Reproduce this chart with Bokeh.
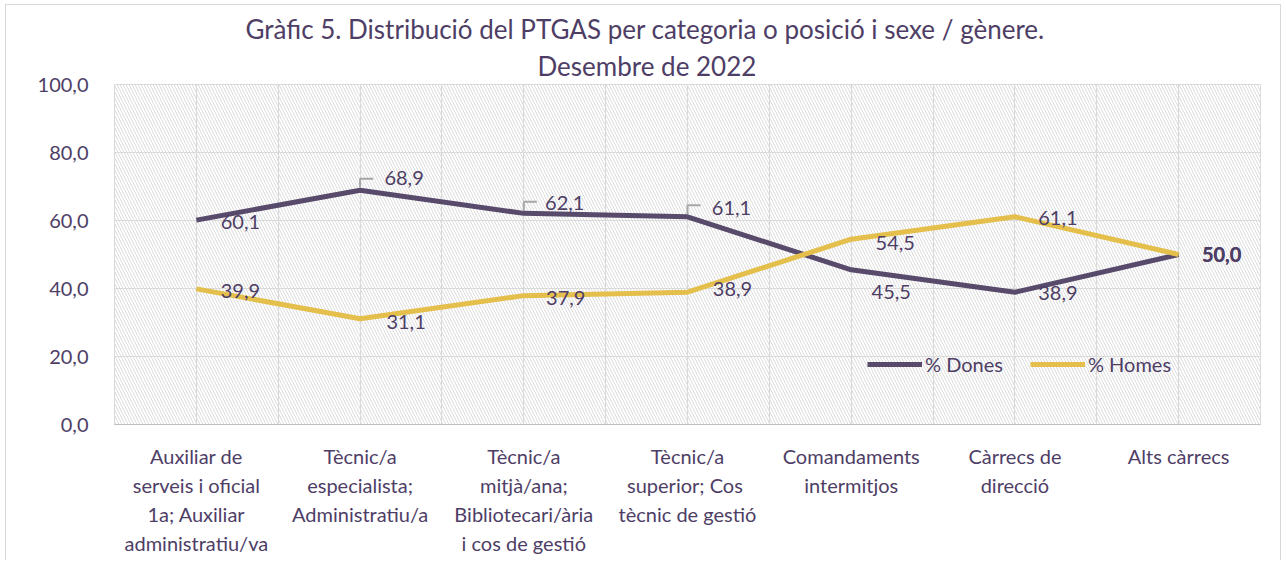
import numpy as np
from bokeh.plotting import figure
from bokeh.models import (ColumnDataSource, FixedTicker, BoxAnnotation, Legend,
                          LegendItem, Title, Range1d)
from bokeh.core.properties import value
from bokeh.embed import file_html
from bokeh.resources import INLINE

# ---------------- data ----------------
categories = [
    "Auxiliar de\nserveis i oficial\n1a; Auxiliar\nadministratiu/va",
    "Tècnic/a\nespecialista;\nAdministratiu/a",
    "Tècnic/a\nmitjà/ana;\nBibliotecari/ària\ni cos de gestió",
    "Tècnic/a\nsuperior;  Cos\ntècnic de gestió",
    "Comandaments\nintermitjos",
    "Càrrecs de\ndirecció",
    "Alts càrrecs",
]
dones = [60.1, 68.9, 62.1, 61.1, 45.5, 38.9, 50.0]
homes = [39.9, 31.1, 37.9, 38.9, 54.5, 61.1, 50.0]
y_ticks = [0, 20, 40, 60, 80, 100]
y_tick_labels = ["0,0", "20,0", "40,0", "60,0", "80,0", "100,0"]
series_names = ["% Dones", "% Homes"]
title_line1 = "Gràfic 5. Distribució del PTGAS per categoria o posició i sexe / gènere."
title_line2 = "Desembre de 2022"
leader_idx = [1, 2, 3]  # Dones labels with leader lines

# ---------------- styles ----------------
FONT = "Lato"
TXT = "#4e3e66"
C_DONES = "#574a6b"
C_HOMES = "#e4bf4b"
GRID = "#d9d9d9"
dones_dx = [44, 44, 41, 44, 40, 43, 43]
dones_dy = [2, -12, -10, -9, 22, 1, 0]
homes_dx = [44, 46, 42, 45, 44, 43, 43]
homes_dy = [2, 3, 2, -3, 4, 1, 0]

n = len(categories)
x = np.arange(n) + 0.5

def fmt(v):
    return f"{v:.1f}".replace(".", ",")

src_d = ColumnDataSource(dict(
    x=x, y=dones, lab=[fmt(v) for v in dones], dx=dones_dx, dy=dones_dy,
    fs=["normal"] * (n - 1) + ["bold"]))
src_h = ColumnDataSource(dict(
    x=x, y=homes, lab=[fmt(v) for v in homes], dx=homes_dx, dy=homes_dy,
    fs=["normal"] * (n - 1) + ["bold"]))

p = figure(frame_width=1146, frame_height=340, output_backend="svg", toolbar_location=None,
           x_range=Range1d(0, n), y_range=Range1d(0, 100),
           min_border_left=108, min_border_right=20, min_border_top=79,
           min_border_bottom=136)
p.background_fill_color = "white"
p.border_fill_color = "white"
p.outline_line_color = GRID
p.styles = {"margin-left": "5px", "margin-top": "4px",
            "border-left": "1px solid #d9d9d9", "border-top": "1px solid #d9d9d9",
            "border-right": "1px solid #d9d9d9"}

# titles (first line on top, second line next to the plot)
p.title.text = title_line1
p.title.align = "left"
p.title.text_font = FONT
p.title.text_font_size = "26px"
p.title.text_font_style = "normal"
p.title.text_color = TXT
p.title.offset = 131
p.title.standoff = 0
t2 = Title(text=title_line2, align="left", text_font=FONT, text_font_size="26px",
           text_font_style="normal", text_color=TXT, offset=423, standoff=6)
p.add_layout(t2, "above")

# hatched plot background
hatch = BoxAnnotation(fill_alpha=0, line_alpha=0, hatch_pattern="\\",
                      hatch_color="#dcdcdc", hatch_weight=1, hatch_scale=6,
                      level="underlay")
p.add_layout(hatch)

# grids
p.ygrid.ticker = FixedTicker(ticks=y_ticks)
p.ygrid.grid_line_color = GRID
p.ygrid.grid_line_width = 1.2
p.xgrid.ticker = FixedTicker(ticks=list(np.arange(0, n + 0.01, 0.5)))
p.xgrid.grid_line_color = GRID
p.xgrid.grid_line_width = 1.2

# axes
p.yaxis.ticker = FixedTicker(ticks=y_ticks)
p.yaxis.major_label_overrides = {t: l for t, l in zip(y_ticks, y_tick_labels)}
p.yaxis.axis_line_alpha = 0
p.yaxis.major_tick_line_alpha = 0
p.yaxis.minor_tick_line_alpha = 0
p.yaxis.major_label_standoff = 20
p.yaxis.major_label_text_font = FONT
p.yaxis.major_label_text_font_size = "20px"
p.yaxis.major_label_text_color = TXT

p.xaxis.ticker = FixedTicker(ticks=list(x))
p.xaxis.major_label_overrides = {float(xi): c for xi, c in zip(x, categories)}
p.xaxis.axis_line_color = "#bfbfbf"
p.xaxis.major_tick_line_alpha = 0
p.xaxis.minor_tick_line_alpha = 0
p.xaxis.major_label_standoff = 13
p.xaxis.major_label_text_font = FONT
p.xaxis.major_label_text_font_size = "20px"
p.xaxis.major_label_text_color = TXT
p.xaxis.major_label_text_line_height = 1.21
p.xaxis.major_label_orientation = "horizontal"

# lines
r_d = p.line("x", "y", source=src_d, line_color=C_DONES, line_width=5, line_join="round")
r_h = p.line("x", "y", source=src_h, line_color=C_HOMES, line_width=5, line_join="round")

# leader lines
lx = [[x[i], x[i], x[i] + 0.08] for i in leader_idx]
ly = [[dones[i] + 0.8, dones[i] + 3.4, dones[i] + 3.4] for i in leader_idx]
p.multi_line(lx, ly, line_color="#a6a6a6", line_width=2)

# data labels
for src in (src_d, src_h):
    p.text("x", "y", text="lab", source=src, x_offset="dx", y_offset="dy",
           text_font=value(FONT), text_font_size="20px", text_color=TXT,
           text_align="center", text_baseline="middle", text_font_style="fs")

# legend
legend = Legend(items=[LegendItem(label=series_names[0], renderers=[r_d]),
                       LegendItem(label=series_names[1], renderers=[r_h])],
                orientation="horizontal", location=(753, 48),
                glyph_width=55, glyph_height=20, label_height=20,
                label_standoff=3, spacing=27, padding=0, margin=0,
                border_line_alpha=0, background_fill_alpha=0,
                label_text_font=FONT, label_text_font_size="20px",
                label_text_color=TXT)
p.add_layout(legend, "center")

open("out.html", "w").write(file_html(p, INLINE))
